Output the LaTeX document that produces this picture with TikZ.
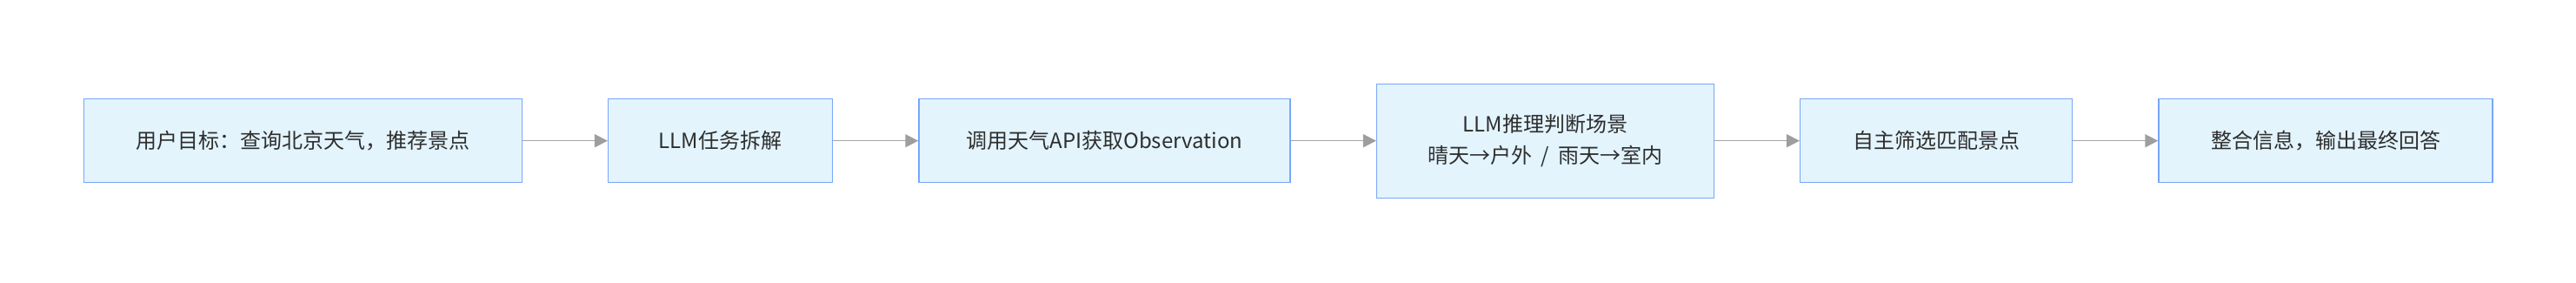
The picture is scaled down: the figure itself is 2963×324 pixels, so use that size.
\documentclass[tikz,border=0pt]{standalone}
\usepackage{fontspec}
\setmainfont{Noto Sans CJK SC}
\usetikzlibrary{arrows.meta}
\definecolor{boxfill}{HTML}{E3F4FD}
\definecolor{boxline}{HTML}{78A6FA}
\definecolor{arrowgray}{HTML}{A6A6A6}
\definecolor{txt}{HTML}{2E2E2E}
\tikzset{
  stepbox/.style={draw=boxline, fill=boxfill, line width=1.5pt, rectangle, inner sep=0pt,
    minimum height=96pt, text=txt, font=\fontsize{24}{36}\selectfont, align=center},
  flowarrow/.style={draw=arrowgray, line width=1.5pt,
    -{Triangle[length=15pt,width=15pt,fill=arrowgray!95!black,color=arrowgray!95!black]}}
}
\begin{document}
\begin{tikzpicture}[x=1pt,y=-1pt]
\useasboundingbox (0,0) rectangle (2963,324);
\node[stepbox, minimum width=504pt] (b1) at (348.3,161.7) {用户目标：查询北京天气，推荐景点};
\node[stepbox, minimum width=258pt] (b2) at (828.7,161.7) {LLM任务拆解};
\node[stepbox, minimum width=427pt] (b3) at (1270.5,161.7) {调用天气API获取Observation};
\node[stepbox, minimum width=387.6pt, minimum height=131.4pt] (b4) at (1777.5,162) {LLM推理判断场景\\晴天→户外\hspace{10pt}/\hspace{10pt}雨天→室内};
\node[stepbox, minimum width=312.6pt] (b5) at (2227,161.7) {自主筛选匹配景点};
\node[stepbox, minimum width=384pt] (b6) at (2675,161.7) {整合信息，输出最终回答};
\draw[flowarrow] (b1.east) -- (b2.west);
\draw[flowarrow] (b2.east) -- (b3.west);
\draw[flowarrow] (b3.east) -- (b4.west|-b3.east);
\draw[flowarrow] (b4.east|-b5.west) -- (b5.west);
\draw[flowarrow] (b5.east) -- (b6.west);
\end{tikzpicture}
\end{document}
